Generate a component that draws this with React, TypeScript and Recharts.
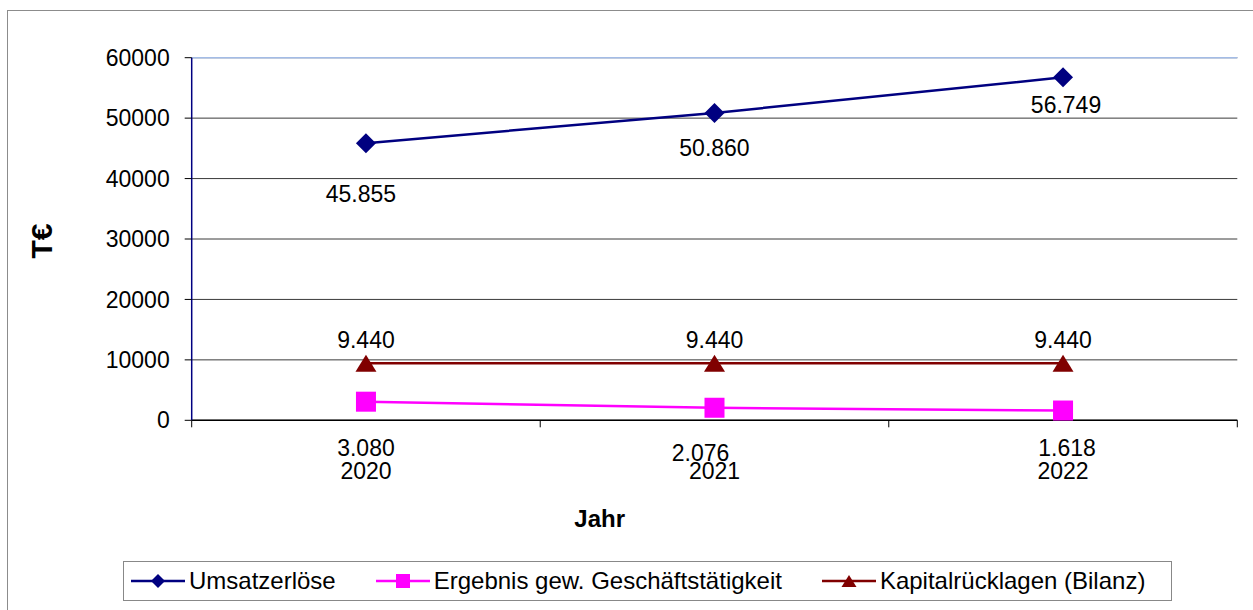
import React from 'react';
import { LineChart, Line, XAxis, YAxis, CartesianGrid, Legend, ReferenceLine, LabelList } from 'recharts';

const YEARS = ['2020', '2021', '2022'];
const UMSATZ = [45855, 50860, 56749];
const ERGEBNIS = [3080, 2076, 1618];
const KAPITAL = [9440, 9440, 9440];
const Y_TICKS = [0, 10000, 20000, 30000, 40000, 50000, 60000];

// where each value label sits relative to its point (dx, dy)
const UMSATZ_NUDGE = [[-5, 51], [0, 35], [3, 28]];
const ERGEBNIS_NUDGE = [[0, 46], [-14, 45], [4, 37]];
const KAPITAL_NUDGE = [[0, -23], [0, -23], [0, -23]];

const data = YEARS.map((year, i) => ({
  year,
  umsatz: UMSATZ[i],
  ergebnis: ERGEBNIS[i],
  kapital: KAPITAL[i],
}));

const W = 1253;
const H = 610;
const MARGIN = { top: 57.7, right: 15.7, bottom: 39.7, left: 21.7 };
const Y_AXIS_W = 170;
const BAND = (W - MARGIN.left - MARGIN.right - Y_AXIS_W) / YEARS.length;

const FONT = "'Liberation Sans', Arial, sans-serif";
const NAVY = '#000080';
const MAGENTA = '#FF00FF';
const DARKRED = '#800000';
const FRAME = '#A3BCE6';

const fmt = (v: number) => String(v).replace(/\B(?=(\d{3})+(?!\d))/g, '.');

const makeLabel = (nudge: number[][]) => (p: any) => {
  const n = nudge[p.index] || [0, 0];
  return (
    <text
      x={p.x + n[0]}
      y={p.y + n[1]}
      textAnchor="middle"
      dominantBaseline="central"
      fontSize={23}
      fontFamily={FONT}
      fill="#000"
    >
      {fmt(p.value)}
    </text>
  );
};

const diamond = (cx: number, cy: number, r: number, fill: string, key?: any) => (
  <path key={key} d={`M${cx},${cy - r}L${cx + r},${cy}L${cx},${cy + r}L${cx - r},${cy}Z`} fill={fill} />
);
const square = (cx: number, cy: number, r: number, fill: string, key?: any) => (
  <rect key={key} x={cx - r} y={cy - r} width={2 * r} height={2 * r} fill={fill} />
);
const triangle = (cx: number, cy: number, w: number, h: number, fill: string, key?: any) => (
  <path key={key} d={`M${cx},${cy - h / 2}L${cx + w / 2},${cy + h / 2}L${cx - w / 2},${cy + h / 2}Z`} fill={fill} />
);

const YearTick = (p: any) => {
  const { x, y, payload, index } = p;
  const half = BAND / 2;
  return (
    <g>
      <line x1={x - half} x2={x - half} y1={y - 7} y2={y} stroke="#000" />
      {index === YEARS.length - 1 && <line x1={x + half} x2={x + half} y1={y - 7} y2={y} stroke="#000" />}
      <text x={x} y={y + 44} textAnchor="middle" dominantBaseline="central" fontSize={23} fontFamily={FONT} fill="#000">
        {payload.value}
      </text>
    </g>
  );
};

const LEGEND_ITEMS = [
  { name: 'Umsatzerlöse', color: NAVY, mark: 'diamond' },
  { name: 'Ergebnis gew. Geschäftstätigkeit', color: MAGENTA, mark: 'square' },
  { name: 'Kapitalrücklagen (Bilanz)', color: DARKRED, mark: 'triangle' },
];

const LegendBox = () => (
  <div
    style={{
      boxSizing: 'border-box',
      height: 40,
      border: '1px solid #888',
      display: 'flex',
      alignItems: 'center',
      paddingLeft: 7,
      gap: 40,
      fontFamily: FONT,
      fontSize: 24,
      color: '#000',
      whiteSpace: 'nowrap',
    }}
  >
    {LEGEND_ITEMS.map((it) => (
      <div key={it.name} style={{ display: 'flex', alignItems: 'center' }}>
        <svg width={54} height={20} style={{ marginRight: 4 }}>
          <line x1={0} x2={54} y1={10} y2={10} stroke={it.color} strokeWidth={2.5} />
          {it.mark === 'diamond' && diamond(27, 10, 7, it.color)}
          {it.mark === 'square' && square(27, 10, 7, it.color)}
          {it.mark === 'triangle' && triangle(27, 10, 15, 12, it.color)}
        </svg>
        <span>{it.name}</span>
      </div>
    ))}
  </div>
);

export default function App() {
  return (
    <div style={{ position: 'absolute', left: 0, top: 0, width: W, height: H, overflow: 'hidden', background: '#fff' }}>
      <div
        style={{
          position: 'absolute',
          left: 7,
          top: 10,
          width: W + 20,
          height: H + 20,
          border: '1px solid #8c8c8c',
        }}
      />
      <LineChart width={W} height={H} data={data} margin={MARGIN}>
        <CartesianGrid vertical={false} stroke="#3a3a3a" />
        <ReferenceLine y={60000} stroke={FRAME} strokeWidth={1.5} />
        <XAxis
          dataKey="year"
          scale="band"
          height={110}
          axisLine={{ stroke: '#000', strokeWidth: 1.5 }}
          tickLine={false}
          tickSize={7}
          tickMargin={0}
          tick={<YearTick />}
          interval={0}
          label={{
            content: (p: any) => (
              <text
                x={p.viewBox.x + 408}
                y={p.viewBox.y + 98}
                textAnchor="middle"
                dominantBaseline="central"
                fontSize={24}
                fontWeight="bold"
                fontFamily={FONT}
                fill="#000"
              >
                Jahr
              </text>
            ),
          }}
        />
        <YAxis
          width={Y_AXIS_W}
          domain={[0, 60000]}
          ticks={Y_TICKS}
          interval={0}
          axisLine={{ stroke: NAVY, strokeWidth: 1.5 }}
          tickLine={{ stroke: '#000' }}
          tickSize={7}
          tickMargin={15}
          tick={{ fontSize: 23, fontFamily: FONT, fill: '#000' }}
          label={{
            content: (p: any) => {
              const cx = p.viewBox.x + 19.5;
              const cy = p.viewBox.y + p.viewBox.height / 2 + 2;
              return (
                <text
                  x={cx}
                  y={cy}
                  transform={`rotate(-90 ${cx} ${cy})`}
                  textAnchor="middle"
                  dominantBaseline="central"
                  fontSize={30}
                  fontWeight="bold"
                  fontFamily={FONT}
                  fill="#000"
                >
                  T€
                </text>
              );
            },
          }}
        />
        <YAxis
          yAxisId="frame"
          orientation="right"
          width={0}
          tick={false}
          tickLine={false}
          axisLine={{ stroke: FRAME, strokeWidth: 1.5 }}
        />
        <Line
          dataKey="umsatz"
          stroke={NAVY}
          strokeWidth={2.5}
          isAnimationActive={false}
          dot={(p: any) => diamond(p.cx, p.cy, 10, NAVY, `u${p.index}`)}
          activeDot={false}
        >
          <LabelList dataKey="umsatz" content={makeLabel(UMSATZ_NUDGE)} />
        </Line>
        <Line
          dataKey="ergebnis"
          stroke={MAGENTA}
          strokeWidth={2.5}
          isAnimationActive={false}
          dot={(p: any) => square(p.cx, p.cy, 10, MAGENTA, `e${p.index}`)}
          activeDot={false}
        >
          <LabelList dataKey="ergebnis" content={makeLabel(ERGEBNIS_NUDGE)} />
        </Line>
        <Line
          dataKey="kapital"
          stroke={DARKRED}
          strokeWidth={2.5}
          isAnimationActive={false}
          dot={(p: any) => triangle(p.cx, p.cy, 21, 17, DARKRED, `k${p.index}`)}
          activeDot={false}
        >
          <LabelList dataKey="kapital" content={makeLabel(KAPITAL_NUDGE)} />
        </Line>
        <Legend
          verticalAlign="bottom"
          content={() => <LegendBox />}
          wrapperStyle={{ left: 123, top: 561, bottom: 'auto', width: 1049, height: 40 }}
        />
      </LineChart>
    </div>
  );
}
